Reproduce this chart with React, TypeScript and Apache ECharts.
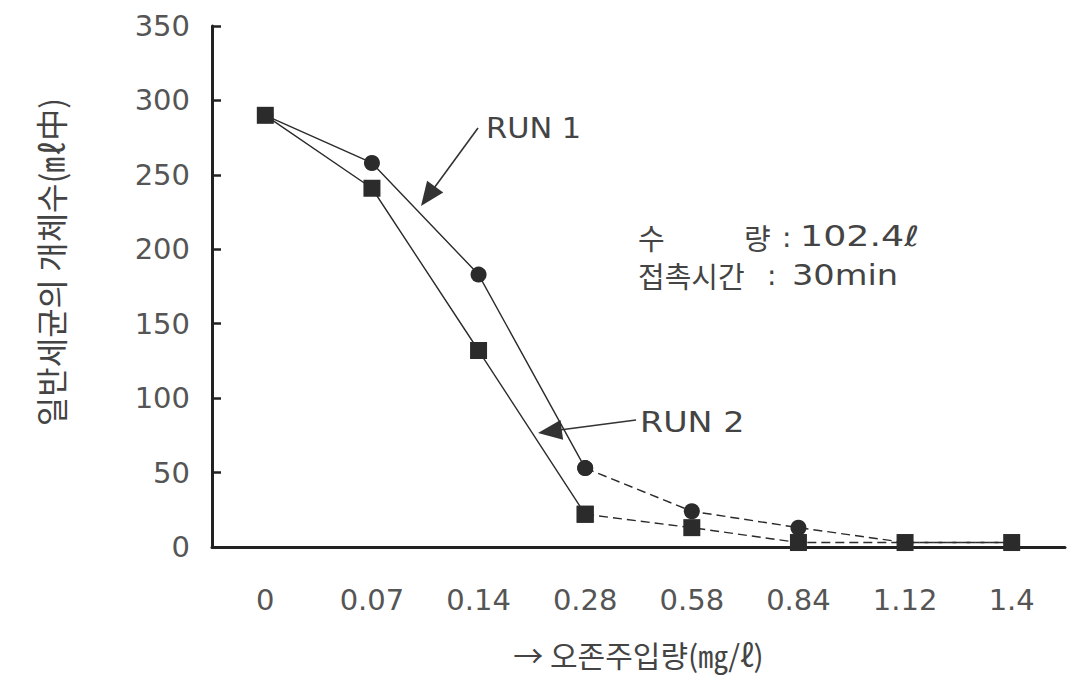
import React, { useEffect, useRef } from "react";
import * as echarts from "echarts";

const categories = ["0", "0.07", "0.14", "0.28", "0.58", "0.84", "1.12", "1.4"];
const run1 = [290, 258, 183, 53, 24, 13, 3, 3];
const run2 = [290, 241, 132, 22, 13, 3, 3, 3];
const yTicks = [0, 50, 100, 150, 200, 250, 300, 350];
const solidUntil = 3;

const FONT = "'DejaVu Sans', 'Noto Sans CJK KR', sans-serif";
const KFONT = "'Noto Sans CJK KR', 'DejaVu Sans', sans-serif";
const INK = "#2b2b2b";
const TXT = "#444";

function arrowHead(tip: [number, number], from: [number, number], len: number, half: number) {
  const dx = tip[0] - from[0];
  const dy = tip[1] - from[1];
  const d = Math.sqrt(dx * dx + dy * dy);
  const ux = dx / d;
  const uy = dy / d;
  const bx = tip[0] - ux * len;
  const by = tip[1] - uy * len;
  const px = -uy * half;
  const py = ux * half;
  return [tip, [bx + px, by + py], [bx - px, by - py]];
}

function txt(s: string, x: number, y: number, size: number, font: string, sx = 1) {
  return {
    type: "text",
    x,
    y,
    scaleX: sx,
    style: { text: s, fontFamily: font, fontSize: size, fill: TXT, align: "left", verticalAlign: "middle" },
  };
}

export default function App() {
  const ref = useRef<HTMLDivElement>(null);
  useEffect(() => {
    if (!ref.current) return;
    const chart = echarts.init(ref.current, undefined, { renderer: "svg" });
    const solid = (arr: number[]) => arr.map((v, i) => (i <= solidUntil ? v : null));
    const dashed = (arr: number[]) => arr.map((v, i) => (i >= solidUntil ? v : null));
    const lineBase = { color: INK, width: 1.4 };
    const mk = (name: string, data: (number | null)[], symbol: string, size: number, type: any, z: number) => ({
      name,
      type: "line",
      data,
      symbol,
      symbolSize: size,
      showAllSymbol: true,
      itemStyle: { color: INK },
      lineStyle: { ...lineBase, type },
      connectNulls: false,
      z,
    });
    const a1from: [number, number] = [478, 128];
    const a1tip: [number, number] = [421, 206];
    const a2from: [number, number] = [636, 420];
    const a2tip: [number, number] = [538, 433];
    chart.setOption({
      animation: false,
      backgroundColor: "#ffffff",
      grid: { left: 212, right: 2, top: 26, bottom: 132, containLabel: false },
      xAxis: {
        type: "category",
        data: categories,
        boundaryGap: true,
        name: "→ 오존주입량(㎎/ℓ)",
        nameLocation: "middle",
        nameGap: 92,
        nameTextStyle: { fontFamily: KFONT, fontSize: 30, color: TXT },
        axisLine: { lineStyle: { color: "#222", width: 3 } },
        axisTick: { inside: true, length: 10, lineStyle: { color: "#222", width: 3 } },
        axisLabel: { margin: 38, fontFamily: FONT, fontSize: 29, color: "#555" },
        splitLine: { show: false },
      },
      yAxis: {
        type: "value",
        min: yTicks[0],
        max: yTicks[yTicks.length - 1],
        interval: 50,
        axisLine: { show: true, lineStyle: { color: "#222", width: 3 } },
        axisTick: { show: true, inside: true, length: 9, lineStyle: { color: "#222", width: 2.5 } },
        axisLabel: { margin: 22, fontFamily: FONT, fontSize: 29, color: "#555" },
        splitLine: { show: false },
      },
      series: [
        mk("RUN 1", solid(run1), "circle", 16, "solid", 2),
        mk("RUN 1 ", dashed(run1), "circle", 16, [9, 5], 2),
        mk("RUN 2", solid(run2), "rect", 17, "solid", 3),
        mk("RUN 2 ", dashed(run2), "rect", 17, [9, 5], 3),
      ],
      graphic: [
        {
          type: "text",
          x: 50,
          y: 262,
          rotation: Math.PI / 2,
          style: {
            text: "일반세균의 개체수(㎖中)",
            fontFamily: KFONT,
            fontSize: 32,
            fill: TXT,
            align: "center",
            verticalAlign: "middle",
          },
        },
        txt("RUN 1", 486, 128, 29, FONT, 1.05),
        {
          type: "line",
          shape: { x1: a1from[0], y1: a1from[1], x2: a1tip[0] + 8, y2: a1tip[1] - 11 },
          style: { stroke: "#333", lineWidth: 1.6 },
        },
        {
          type: "polygon",
          shape: { points: arrowHead(a1tip, a1from, 24, 10) },
          style: { fill: "#333" },
        },
        txt("RUN 2", 640, 422, 29, FONT, 1.15),
        {
          type: "line",
          shape: { x1: a2from[0], y1: a2from[1], x2: a2tip[0] + 14, y2: a2tip[1] - 2 },
          style: { stroke: "#333", lineWidth: 1.6 },
        },
        {
          type: "polygon",
          shape: { points: arrowHead(a2tip, a2from, 24, 10) },
          style: { fill: "#333" },
        },
        txt("수", 638, 237, 29, KFONT),
        txt("량", 744, 237, 29, KFONT),
        txt(":", 782, 237, 28, FONT),
        txt("102.4ℓ", 800, 237, 28, FONT, 1.3),
        txt("접촉시간", 638, 275, 29, KFONT),
        txt(":", 767, 275, 28, FONT),
        txt("30min", 792, 275, 28, FONT, 1.2),
      ],
    });
    return () => chart.dispose();
  }, []);
  return (
    <div
      ref={ref}
      style={{ position: "fixed", left: 0, top: 0, width: 1067, height: 679, background: "#fff" }}
    />
  );
}
